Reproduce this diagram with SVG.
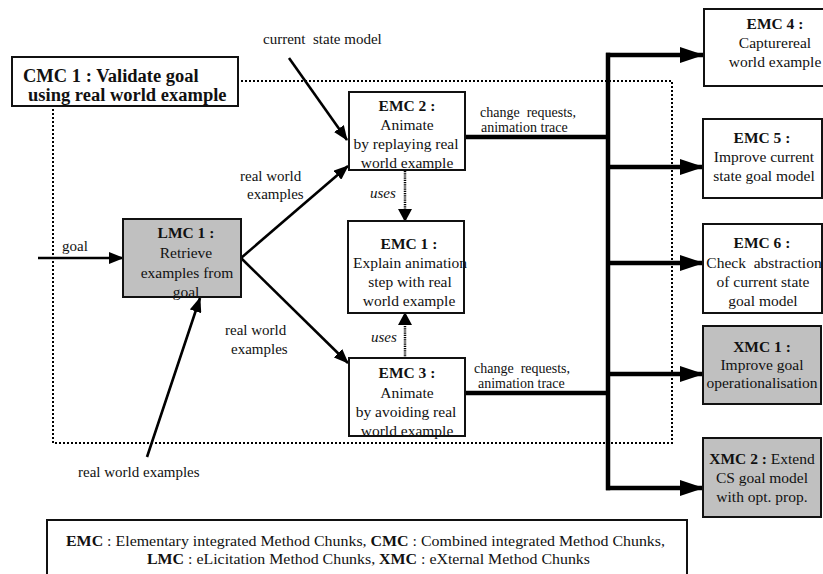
<svg xmlns="http://www.w3.org/2000/svg" width="823" height="574" viewBox="0 0 823 574" font-family="'Liberation Serif', 'Times New Roman', 'DejaVu Serif', serif">
<style>
text{font-family:'Liberation Serif','Times New Roman','DejaVu Serif',serif;fill:#111;}
.n{font-size:15.5px;text-anchor:middle;}
.b{font-weight:bold;}
.lbl{font-size:15px;}
.cr{font-size:14px;}
.box{fill:#fff;stroke:#111;stroke-width:2;}
.gray{fill:#c0c0c0;stroke:#111;stroke-width:2;}
.thin{stroke:#000;stroke-width:2.6;fill:none;marker-end:url(#ah);}
.bus{stroke:#000;stroke-width:4.5;fill:none;}
.busa{stroke:#000;stroke-width:4.5;fill:none;marker-end:url(#bh);}
.uses{stroke:#000;stroke-width:2.5;fill:none;stroke-dasharray:1.2 1;marker-end:url(#uh);}
.dot{fill:none;stroke:#000;stroke-width:2;stroke-dasharray:2 2;}
</style>
<defs>
<marker id="ah" markerUnits="userSpaceOnUse" markerWidth="15" markerHeight="12" refX="14" refY="6" orient="auto"><path d="M0,0 L15,6 L0,12 z" fill="#000"/></marker>
<marker id="bh" markerUnits="userSpaceOnUse" markerWidth="24" markerHeight="16" refX="23" refY="8" orient="auto"><path d="M0,0 L24,8 L0,16 z" fill="#000"/></marker>
<marker id="uh" markerUnits="userSpaceOnUse" markerWidth="14" markerHeight="14" refX="12" refY="7" orient="auto"><path d="M0,0 L13,7 L0,14 z" fill="#000"/></marker>
</defs>
<rect width="823" height="574" fill="#fff"/>
<rect id="cmc-frame" class="dot" x="53" y="81" width="619" height="362"/>
<g id="connectors">
<line class="thin" x1="38" y1="258" x2="123" y2="258"/>
<text class="lbl" x="62" y="251">goal</text>
<line class="thin" x1="241" y1="258" x2="348" y2="166"/>
<text class="lbl" x="240" y="181">real world</text>
<text class="lbl" x="247" y="199">examples</text>
<line class="thin" x1="241" y1="258" x2="348" y2="363"/>
<text class="lbl" x="225" y="335">real world</text>
<text class="lbl" x="231" y="354">examples</text>
<line class="thin" x1="147" y1="457" x2="200" y2="298"/>
<text class="lbl" x="78" y="477">real world examples</text>
<line class="thin" x1="289" y1="58" x2="347" y2="140"/>
<text class="lbl" x="263" y="44" xml:space="preserve">current  state model</text>
<line class="uses" x1="405" y1="171" x2="405" y2="221"/>
<text class="lbl" x="370" y="198" font-style="italic">uses</text>
<line class="uses" x1="405" y1="358" x2="405" y2="313"/>
<text class="lbl" x="371" y="342" font-style="italic">uses</text>
<line class="bus" x1="465" y1="137" x2="608" y2="137"/>
<text class="cr" x="480" y="117" xml:space="preserve">change  requests,</text>
<text class="cr" x="481" y="131.5">animation trace</text>
<line class="bus" x1="465" y1="393" x2="608" y2="393"/>
<text class="cr" x="474" y="373" xml:space="preserve">change  requests,</text>
<text class="cr" x="478" y="387.5">animation trace</text>
<line class="bus" x1="608" y1="52.8" x2="608" y2="490.2"/>
<line class="busa" x1="606" y1="55" x2="703" y2="55"/>
<line class="busa" x1="606" y1="167" x2="703" y2="167"/>
<line class="busa" x1="606" y1="263" x2="703" y2="263"/>
<line class="busa" x1="606" y1="374" x2="703" y2="374"/>
<line class="busa" x1="606" y1="488" x2="703" y2="488"/>
</g>
<g id="CMC1">
<rect class="box" x="12" y="57" width="226" height="49"/>
<text class="b" font-size="18.5" x="23" y="82">CMC 1 : Validate goal</text>
<text class="b" font-size="18.5" x="28" y="101">using real world example</text>
</g>
<g id="LMC1">
<rect class="gray" x="123" y="219" width="118" height="78"/>
<text class="n b" x="186" y="238">LMC 1 :</text>
<text class="n" x="186" y="258">Retrieve</text>
<text class="n" x="187" y="278">examples from</text>
<text class="n" x="186" y="297">goal</text>
</g>
<g id="EMC2">
<rect class="box" x="349" y="92" width="116" height="78"/>
<text class="n b" x="407" y="111">EMC 2 :</text>
<text class="n" x="407" y="130">Animate</text>
<text class="n" x="406" y="149">by replaying real</text>
<text class="n" x="407" y="168">world example</text>
</g>
<g id="EMC1">
<rect class="box" x="348" y="221" width="116" height="92"/>
<text class="n b" x="409" y="249">EMC 1 :</text>
<text class="n" x="410" y="268">Explain animation</text>
<text class="n" x="410" y="287">step with real</text>
<text class="n" x="409" y="306">world example</text>
</g>
<g id="EMC3">
<rect class="box" x="349" y="358" width="116" height="78"/>
<text class="n b" x="407" y="378">EMC 3 :</text>
<text class="n" x="407" y="398">Animate</text>
<text class="n" x="406" y="417">by avoiding real</text>
<text class="n" x="407" y="436">world example</text>
</g>
<g id="EMC4">
<rect class="box" x="704" y="9" width="140" height="77"/>
<text class="n b" x="775" y="29">EMC 4 :</text>
<text class="n" x="775" y="48">Capturereal</text>
<text class="n" x="775" y="67">world example</text>
</g>
<g id="EMC5">
<rect class="box" x="703" y="119" width="119" height="79"/>
<text class="n b" x="762" y="143">EMC 5 :</text>
<text class="n" x="764" y="162">Improve current</text>
<text class="n" x="764" y="181">state goal model</text>
</g>
<g id="EMC6">
<rect class="box" x="703" y="224" width="119" height="89"/>
<text class="n b" x="762" y="248">EMC 6 :</text>
<text class="n" x="764" y="268" xml:space="preserve">Check  abstraction</text>
<text class="n" x="763" y="287">of current state</text>
<text class="n" x="763" y="306">goal model</text>
</g>
<g id="XMC1">
<rect class="gray" x="703" y="326" width="118" height="78"/>
<text class="n b" x="762" y="352">XMC 1 :</text>
<text class="n" x="762" y="370">Improve goal</text>
<text class="n" x="762" y="388">operationalisation</text>
</g>
<g id="XMC2">
<rect class="gray" x="703" y="438" width="118" height="79"/>
<text class="n" x="762" y="464"><tspan class="b">XMC 2 :</tspan> Extend</text>
<text class="n" x="762" y="483">CS goal model</text>
<text class="n" x="762" y="502">with opt. prop.</text>
</g>
<g id="legend">
<rect class="box" x="47" y="520" width="640" height="60"/>
<text font-size="14" x="66" y="546" textLength="599" lengthAdjust="spacingAndGlyphs"><tspan font-weight="bold">EMC</tspan> : Elementary integrated Method Chunks, <tspan font-weight="bold">CMC</tspan> : Combined integrated Method Chunks,</text>
<text font-size="14" x="147" y="564" textLength="443" lengthAdjust="spacingAndGlyphs"><tspan font-weight="bold">LMC</tspan> : eLicitation Method Chunks, <tspan font-weight="bold">XMC</tspan> : eXternal Method Chunks</text>
</g>
</svg>
